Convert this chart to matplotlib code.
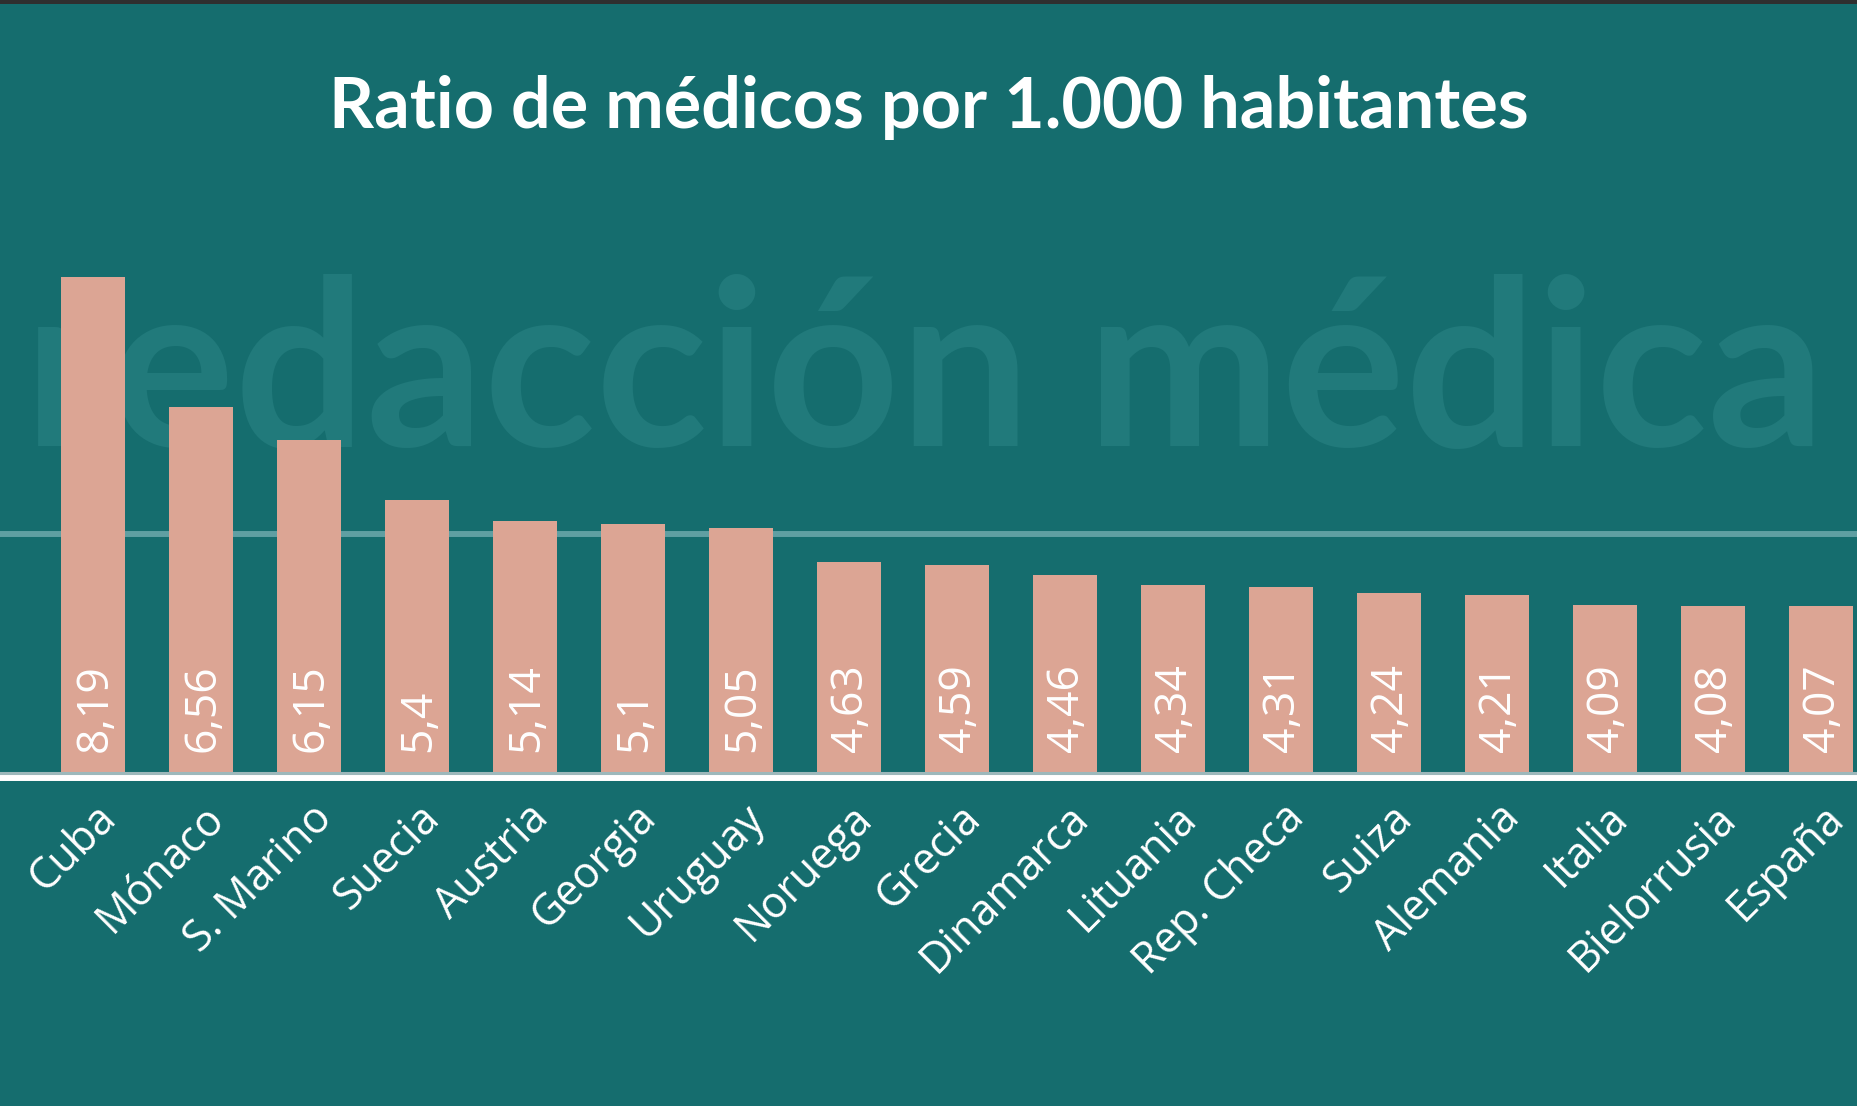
import matplotlib
matplotlib.use("Agg")
import matplotlib.pyplot as plt
from matplotlib.patches import Rectangle

# datos: ratio de medicos por 1.000 habitantes
paises = ["Cuba", "Mónaco", "S. Marino", "Suecia", "Austria", "Georgia",
          "Uruguay", "Noruega", "Grecia", "Dinamarca", "Lituania",
          "Rep. Checa", "Suiza", "Alemania", "Italia", "Bielorrusia", "España"]
ratios = [8.19, 6.56, 6.15, 5.4, 5.14, 5.1, 5.05, 4.63, 4.59, 4.46, 4.34,
          4.31, 4.24, 4.21, 4.09, 4.08, 4.07]
etiquetas = ["8,19", "6,56", "6,15", "5,4", "5,14", "5,1", "5,05", "4,63",
             "4,59", "4,46", "4,34", "4,31", "4,24", "4,21", "4,09", "4,08", "4,07"]
titulo = "Ratio de médicos por 1.000 habitantes"
marca = "redacción médica"

fondo = "#156d6e"
color_barra = "#dca594"
W, H = 1858, 1106

fig = plt.figure(figsize=(W / 100, H / 100), dpi=100, facecolor=fondo)

# franja oscura superior
fig.patches.append(Rectangle((0, 1 - 4 / H), 1, 4 / H, transform=fig.transFigure,
                             facecolor="#2f2f2f", edgecolor="none", zorder=5))

base_px = 772
ax = fig.add_axes([0, 1 - base_px / H, 1, 560 / H])
ax.set_facecolor("none")
ax.set_ylim(2, 9)
ax.set_xlim(-93 / 108, (W - 93) / 108)
for s in ax.spines.values():
    s.set_visible(False)
ax.set_xticks([])
ax.set_yticks([])

# marca de agua
ax.text(0.4975, 1 - 446 / H, marca, transform=fig.transFigure, ha="center",
        va="baseline", fontsize=167, fontfamily="Lato", fontweight="bold",
        color="#217a7b", zorder=0.2, clip_on=False)

# linea de referencia
ax.axhline(4.97, color="#5f9fa2", lw=4.3, zorder=0.5)

x = list(range(len(paises)))
ax.bar(x, ratios, width=0.6, color=color_barra, zorder=1)

ax.axhline(1.99, color="#9db8bb", lw=2.2, zorder=2, clip_on=False)
ax.axhline(1.925, color="white", lw=4.3, zorder=2, clip_on=False)

for xi, lab in zip(x, etiquetas):
    ax.text(xi + 0.02, 2.25, lab, rotation=90, ha="center", va="bottom",
            fontsize=32, fontfamily="Open Sans", color="white", zorder=3)

for xi, p in zip(x, paises):
    ax.text(xi + 0.01, 1.70, p, rotation=45, rotation_mode="anchor", ha="right",
            va="top", fontsize=31, fontfamily="Open Sans", color="white",
            clip_on=False)

fig.text(0.5, 1 - 128 / H, titulo, ha="center", va="baseline", fontsize=50.5,
         fontfamily="Lato", fontweight="bold", color="white")

fig.savefig("out.png", dpi=100, facecolor=fondo)
